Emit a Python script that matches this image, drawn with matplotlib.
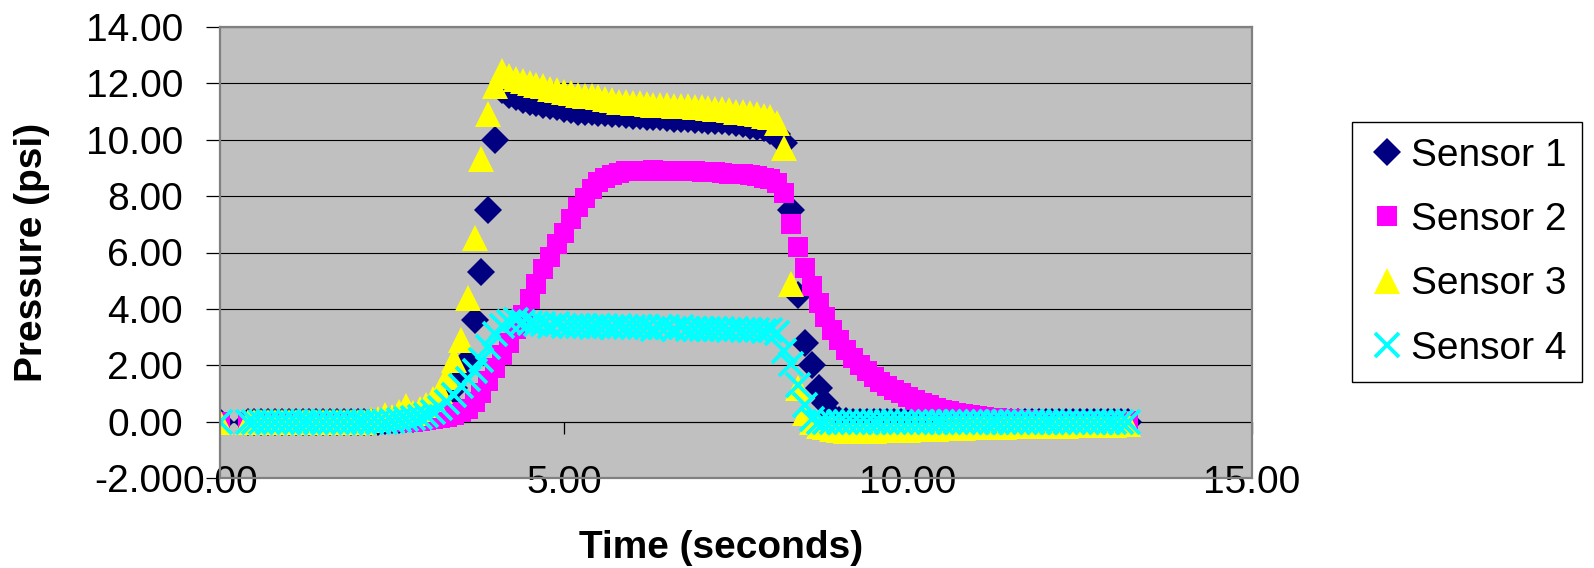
import matplotlib
matplotlib.use('Agg')
import matplotlib.pyplot as plt
from matplotlib.ticker import FormatStrFormatter

plt.rcParams['font.family'] = ['Liberation Sans', 'DejaVu Sans']

# ---------------- data ----------------
time_s = [0.0,
          0.4, 0.5, 0.6, 0.7, 0.8, 0.9, 1.0,
          1.1, 1.2, 1.3, 1.4, 1.5, 1.6, 1.7, 1.8, 1.9, 2.0,
          2.1, 2.2, 2.3, 2.4, 2.5, 2.6, 2.7, 2.8, 2.9, 3.0,
          3.1, 3.2, 3.3, 3.4, 3.5, 3.6, 3.7, 3.8, 3.9, 4.0,
          4.1, 4.2, 4.3, 4.4, 4.5, 4.6, 4.7, 4.8, 4.9, 5.0,
          5.1, 5.2, 5.3, 5.4, 5.5, 5.6, 5.7, 5.8, 5.9, 6.0,
          6.1, 6.2, 6.3, 6.4, 6.5, 6.6, 6.7, 6.8, 6.9, 7.0,
          7.1, 7.2, 7.3, 7.4, 7.5, 7.6, 7.7, 7.8, 7.9, 8.0,
          8.1, 8.2, 8.3, 8.4, 8.5, 8.6, 8.7, 8.8, 8.9, 9.0,
          9.1, 9.2, 9.3, 9.4, 9.5, 9.6, 9.7, 9.8, 9.9, 10.0,
          10.1, 10.2, 10.3, 10.4, 10.5, 10.6, 10.7, 10.8, 10.9, 11.0,
          11.1, 11.2, 11.3, 11.4, 11.5, 11.6, 11.7, 11.8, 11.9, 12.0,
          12.1, 12.2, 12.3, 12.4, 12.5, 12.6, 12.7, 12.8, 12.9, 13.0,
          13.1, 13.2]

sensor1 = [0.0,
           0.0, 0.0, 0.0, 0.0, 0.0, 0.0, 0.0,
           0.0, 0.0, 0.0, 0.0, 0.0, 0.0, 0.0, 0.0, 0.0, 0.0,
           0.0, 0.0, 0.0, 0.02, 0.05, 0.05, 0.1, 0.1, 0.15, 0.2,
           0.3, 0.5, 0.8, 1.2, 1.7, 2.2, 3.6, 5.3, 7.5, 10.0,
           11.75, 11.6, 11.5, 11.4, 11.35, 11.3, 11.25, 11.2, 11.15, 11.1,
           11.05, 11.0, 11.0, 10.98, 10.95, 10.95, 10.9, 10.9, 10.88, 10.85,
           10.85, 10.82, 10.8, 10.8, 10.78, 10.75, 10.75, 10.72, 10.7, 10.7,
           10.68, 10.65, 10.65, 10.62, 10.6, 10.55, 10.5, 10.45, 10.4, 10.3,
           10.2, 9.9, 7.5, 4.5, 2.8, 2.0, 1.2, 0.65, 0.2, 0.05,
           0.02, 0.0, 0.0, 0.0, 0.0, 0.0, 0.0, 0.0, 0.0, 0.0,
           0.0, 0.0, 0.0, 0.0, 0.0, 0.0, 0.0, 0.0, 0.0, 0.0,
           0.0, 0.0, 0.0, 0.0, 0.0, 0.0, 0.0, 0.0, 0.0, 0.0,
           0.0, 0.0, 0.0, 0.0, 0.0, 0.0, 0.0, 0.0, 0.0, 0.0,
           0.0, 0.0]

sensor2 = [0.0,
           0.0, 0.0, 0.0, 0.0, 0.0, 0.0, 0.0,
           0.0, 0.0, 0.0, 0.0, 0.0, 0.0, 0.0, 0.0, 0.0, 0.0,
           0.0, 0.0, 0.0, 0.0, 0.0, 0.0, 0.0, 0.0, 0.02, 0.05,
           0.08, 0.12, 0.18, 0.25, 0.33, 0.45, 0.7, 1.0, 1.45, 1.9,
           2.35, 2.8, 3.3, 3.8, 4.35, 4.9, 5.4, 5.85, 6.3, 6.7,
           7.2, 7.6, 7.95, 8.25, 8.5, 8.65, 8.75, 8.83, 8.88, 8.9,
           8.9, 8.9, 8.92, 8.9, 8.9, 8.9, 8.88, 8.88, 8.88, 8.85,
           8.85, 8.85, 8.82, 8.8, 8.8, 8.78, 8.75, 8.72, 8.65, 8.6,
           8.45, 8.1, 7.0, 6.2, 5.45, 4.8, 4.2, 3.7, 3.25, 2.9,
           2.55, 2.25, 2.0, 1.78, 1.58, 1.4, 1.25, 1.12, 1.0, 0.88,
           0.77, 0.67, 0.58, 0.5, 0.43, 0.37, 0.32, 0.27, 0.23, 0.2,
           0.17, 0.14, 0.12, 0.1, 0.08, 0.06, 0.05, 0.04, 0.03, 0.03,
           0.02, 0.02, 0.02, 0.02, 0.02, 0.02, 0.02, 0.02, 0.02, 0.02,
           0.02, 0.02]

sensor3 = [0.0,
           0.0, 0.0, 0.0, 0.0, 0.0, 0.0, 0.0,
           0.0, 0.0, 0.0, 0.0, 0.0, 0.0, 0.0, 0.0, 0.0, 0.0,
           0.0, 0.05, 0.1, 0.25, 0.15, 0.35, 0.55, 0.3, 0.45, 0.6,
           0.8, 1.1, 1.6, 2.2, 2.9, 4.4, 6.5, 9.3, 10.9, 11.9,
           12.45, 12.25, 12.15, 12.1, 12.0, 11.95, 11.9, 11.8, 11.75, 11.7,
           11.65, 11.6, 11.55, 11.55, 11.5, 11.45, 11.4, 11.35, 11.35, 11.3,
           11.3, 11.28, 11.25, 11.25, 11.22, 11.2, 11.2, 11.18, 11.15, 11.15,
           11.12, 11.1, 11.08, 11.05, 11.0, 10.98, 10.95, 10.9, 10.85, 10.8,
           10.6, 9.7, 4.9, 1.2, 0.3, 0.0, -0.15, -0.2, -0.25, -0.3,
           -0.35, -0.35, -0.35, -0.33, -0.33, -0.3, -0.3, -0.3, -0.28, -0.28,
           -0.27, -0.26, -0.25, -0.25, -0.24, -0.23, -0.22, -0.21, -0.2, -0.2,
           -0.2, -0.19, -0.18, -0.18, -0.17, -0.17, -0.16, -0.16, -0.15, -0.15,
           -0.15, -0.14, -0.14, -0.13, -0.13, -0.12, -0.12, -0.12, -0.11, -0.11,
           -0.1, -0.1]

sensor4 = [0.0,
           0.0, 0.0, 0.0, 0.0, 0.0, 0.0, 0.0,
           0.0, 0.0, 0.0, 0.0, 0.0, 0.0, 0.0, 0.0, 0.0, 0.0,
           0.0, 0.0, 0.0, 0.0, 0.02, 0.05, 0.08, 0.12, 0.15, 0.22,
           0.35, 0.5, 0.7, 0.95, 1.25, 1.5, 1.8, 2.2, 2.65, 3.1,
           3.4, 3.55, 3.6, 3.55, 3.5, 3.45, 3.45, 3.4, 3.45, 3.4,
           3.4, 3.4, 3.4, 3.35, 3.4, 3.4, 3.35, 3.4, 3.35, 3.35,
           3.35, 3.35, 3.3, 3.35, 3.35, 3.3, 3.35, 3.3, 3.3, 3.3,
           3.3, 3.3, 3.3, 3.25, 3.3, 3.25, 3.25, 3.25, 3.2, 3.25,
           3.15, 2.5, 2.05, 1.3, 0.6, 0.1, 0.0, 0.0, 0.0, 0.0,
           0.0, 0.0, 0.0, 0.0, 0.0, 0.0, 0.0, 0.0, 0.0, 0.0,
           0.0, 0.0, 0.0, 0.0, 0.0, 0.0, 0.0, 0.0, 0.0, 0.0,
           0.0, 0.0, 0.0, 0.0, 0.0, 0.0, 0.0, 0.0, 0.0, 0.0,
           0.0, 0.0, 0.0, 0.0, 0.0, 0.0, 0.0, 0.0, 0.0, 0.0,
           0.0, 0.0]

series_labels = ['Sensor 1', 'Sensor 2', 'Sensor 3', 'Sensor 4']
x_ticks = [0, 5, 10, 15]
y_ticks = [-2, 0, 2, 4, 6, 8, 10, 12, 14]

# ---------------- styling ----------------
colors = ['#000080', '#FF00FF', '#FFFF00', '#00FFFF']
styles = [dict(marker='D', markersize=14.0, markeredgewidth=0),
          dict(marker='s', markersize=15.0, markeredgewidth=0),
          dict(marker='^', markersize=18.5, markeredgewidth=0),
          dict(marker='x', markersize=17.5, markeredgewidth=2.7)]
FS = 28

W, H = 1594, 568
fig = plt.figure(figsize=(W / 100, H / 100), dpi=100)
ax = fig.add_axes([220 / W, 1 - 478 / H, 1032 / W, 451 / H])
ax.set_facecolor('#C0C0C0')

for ys, lab, c, st in zip([sensor1, sensor2, sensor3, sensor4],
                          series_labels, colors, styles):
    ax.plot(time_s, ys, linestyle='none', color=c, label=lab, **st)

ax.set_xlim(0, 15)
ax.set_ylim(-2, 14)
ax.set_xticks(x_ticks)
ax.set_yticks(y_ticks)
ax.xaxis.set_major_formatter(FormatStrFormatter('%.2f'))
ax.yaxis.set_major_formatter(FormatStrFormatter('%.2f'))

ax.set_axisbelow(True)
ax.yaxis.grid(True, color='black', linewidth=0.8)
ax.xaxis.grid(False)

for sp in ax.spines.values():
    sp.set_color('#808080')
    sp.set_linewidth(1.6)

ax.tick_params(axis='y', direction='out', length=10, width=0.9,
               color='black', pad=16.5, labelsize=FS)
ax.tick_params(axis='x', length=0, pad=-9.4, labelsize=FS)

# x axis line with tick marks at y = 0 (crossing point)
sec = ax.secondary_xaxis((0 - (-2)) / 16)
sec.set_xticks(x_ticks)
sec.tick_params(axis='x', direction='out', length=8.6, width=0.9,
                color='black', labelbottom=False, labeltop=False)
for sp in sec.spines.values():
    sp.set_color('black')
    sp.set_linewidth(0.8)

ax.set_ylabel('Pressure (psi)', fontsize=FS, fontweight='bold')
ax.yaxis.set_label_coords(-0.182, 0.5)
ax.yaxis.label.set_verticalalignment('center')

ax.set_xlabel('Time (seconds)', fontsize=FS, fontweight='bold')
ax.xaxis.set_label_coords(0.486, -0.155)
ax.xaxis.label.set_verticalalignment('center')

handles, labels = ax.get_legend_handles_labels()
leg = fig.legend(handles, labels, loc='upper left',
                 bbox_to_anchor=(1352 / W, 1 - 122 / H),
                 bbox_transform=fig.transFigure, borderaxespad=0,
                 frameon=True, fancybox=False, framealpha=1,
                 edgecolor='black', fontsize=FS, borderpad=0.4,
                 labelspacing=0.73, handlelength=1.0, handletextpad=0.12,
                 numpoints=1)
leg.get_frame().set_linewidth(1.0)

fig.savefig('out.png', dpi=100)
